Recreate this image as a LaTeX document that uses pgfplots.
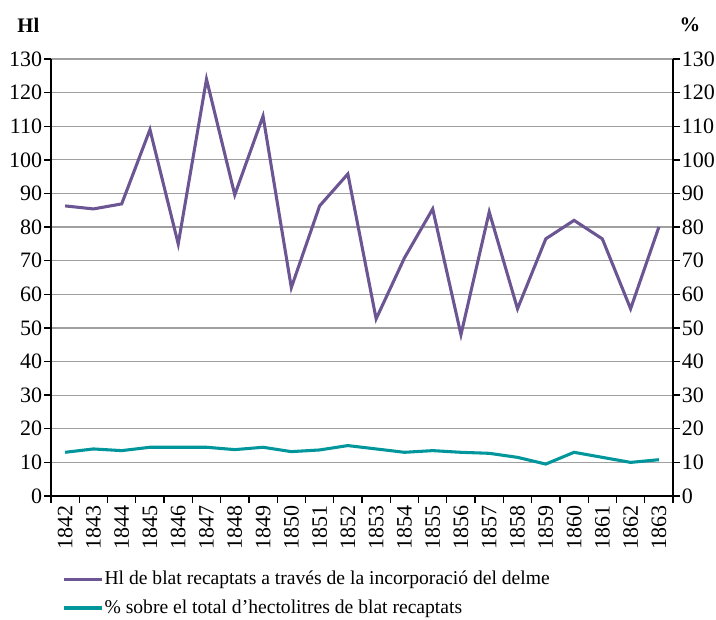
\documentclass[border=0pt]{standalone}
\usepackage{fontspec}
\setmainfont{Liberation Serif}
\usepackage{pgfplots}
\pgfplotsset{compat=1.18}
\definecolor{hlpurple}{HTML}{6B5592}
\definecolor{pcteal}{HTML}{00969B}
\begin{document}
\fontsize{14.7}{17}\selectfont
\begin{tikzpicture}
\path[use as bounding box] (-38.25pt,-92.25pt) rectangle (498.75pt,372pt);
\begin{axis}[
  scale only axis, width=466.5pt, height=327.75pt,
  xmin=-0.5, xmax=21.5, ymin=0, ymax=130,
  ytick={0,10,...,130},
  axis x line*=bottom, axis y line*=left,
  axis line style={-, black, line width=1.1pt},
  ymajorgrids, grid style={gray!75, line width=0.9pt},
  xtick={0,...,21},
  xticklabels={1842,1843,1844,1845,1846,1847,1848,1849,1850,1851,1852,1853,1854,1855,1856,1857,1858,1859,1860,1861,1862,1863},
  tick label style={font=\fontsize{16.5}{18}\selectfont},
  x tick label style={rotate=90, anchor=east, inner sep=2pt},
  y tick label style={inner sep=1.5pt},
  major x tick style={draw=none},
  minor xtick={-0.5,0.5,...,21.5},
  minor tick length=5pt, major tick length=5pt,
  tick align=outside,
  tick style={black, line width=1pt},
  /pgf/number format/assume math mode=true,
  legend style={at={(axis description cs:0.012,-0.162)}, anchor=north west, draw=none, fill=none, row sep=7pt, font=\fontsize{14.7}{17}\selectfont},
  legend cell align=left,
  legend image code/.code={\draw[#1, line width=2.4pt] (0pt,0pt) -- (28pt,0pt);},
  every axis legend/.append style={nodes={inner sep=1pt}},
]
\addplot[hlpurple, line width=2.3pt, line join=miter] coordinates {
(0,86.3)(1,85.4)(2,86.9)(3,109)(4,75)(5,124)(6,89.6)(7,113)(8,62)(9,86.3)(10,95.8)
(11,52.7)(12,70.8)(13,85.4)(14,48)(15,84.5)(16,55.7)(17,76.5)(18,82)(19,76.5)(20,55.7)(21,80)};
\addlegendentry{Hl de blat recaptats a través de la incorporació del delme}
\addplot[pcteal, line width=2.3pt] coordinates {
(0,13)(1,14)(2,13.5)(3,14.5)(4,14.5)(5,14.5)(6,13.8)(7,14.5)(8,13.2)(9,13.7)(10,15)
(11,14)(12,13)(13,13.5)(14,13)(15,12.7)(16,11.5)(17,9.5)(18,13)(19,11.5)(20,10)(21,10.8)};
\addlegendentry{\% sobre el total d’hectolitres de blat recaptats}
\end{axis}
\begin{axis}[
  scale only axis, width=466.5pt, height=327.75pt,
  xmin=-0.5, xmax=21.5, ymin=0, ymax=130,
  ytick={0,10,...,130},
  axis x line=none, axis y line*=right,
  axis line style={-, black, line width=1.1pt},
  tick label style={font=\fontsize{16.5}{18}\selectfont},
  y tick label style={inner sep=1.5pt},
  tick align=outside, major tick length=5pt,
  tick style={black, line width=1pt},
  /pgf/number format/assume math mode=true,
]
\end{axis}
\node[font=\bfseries\fontsize{15.5}{17}\selectfont] at (-17pt,353.25pt) {Hl};
\node[font=\bfseries\fontsize{15.5}{17}\selectfont] at (479.25pt,353.25pt) {\%};
\end{tikzpicture}
\end{document}
